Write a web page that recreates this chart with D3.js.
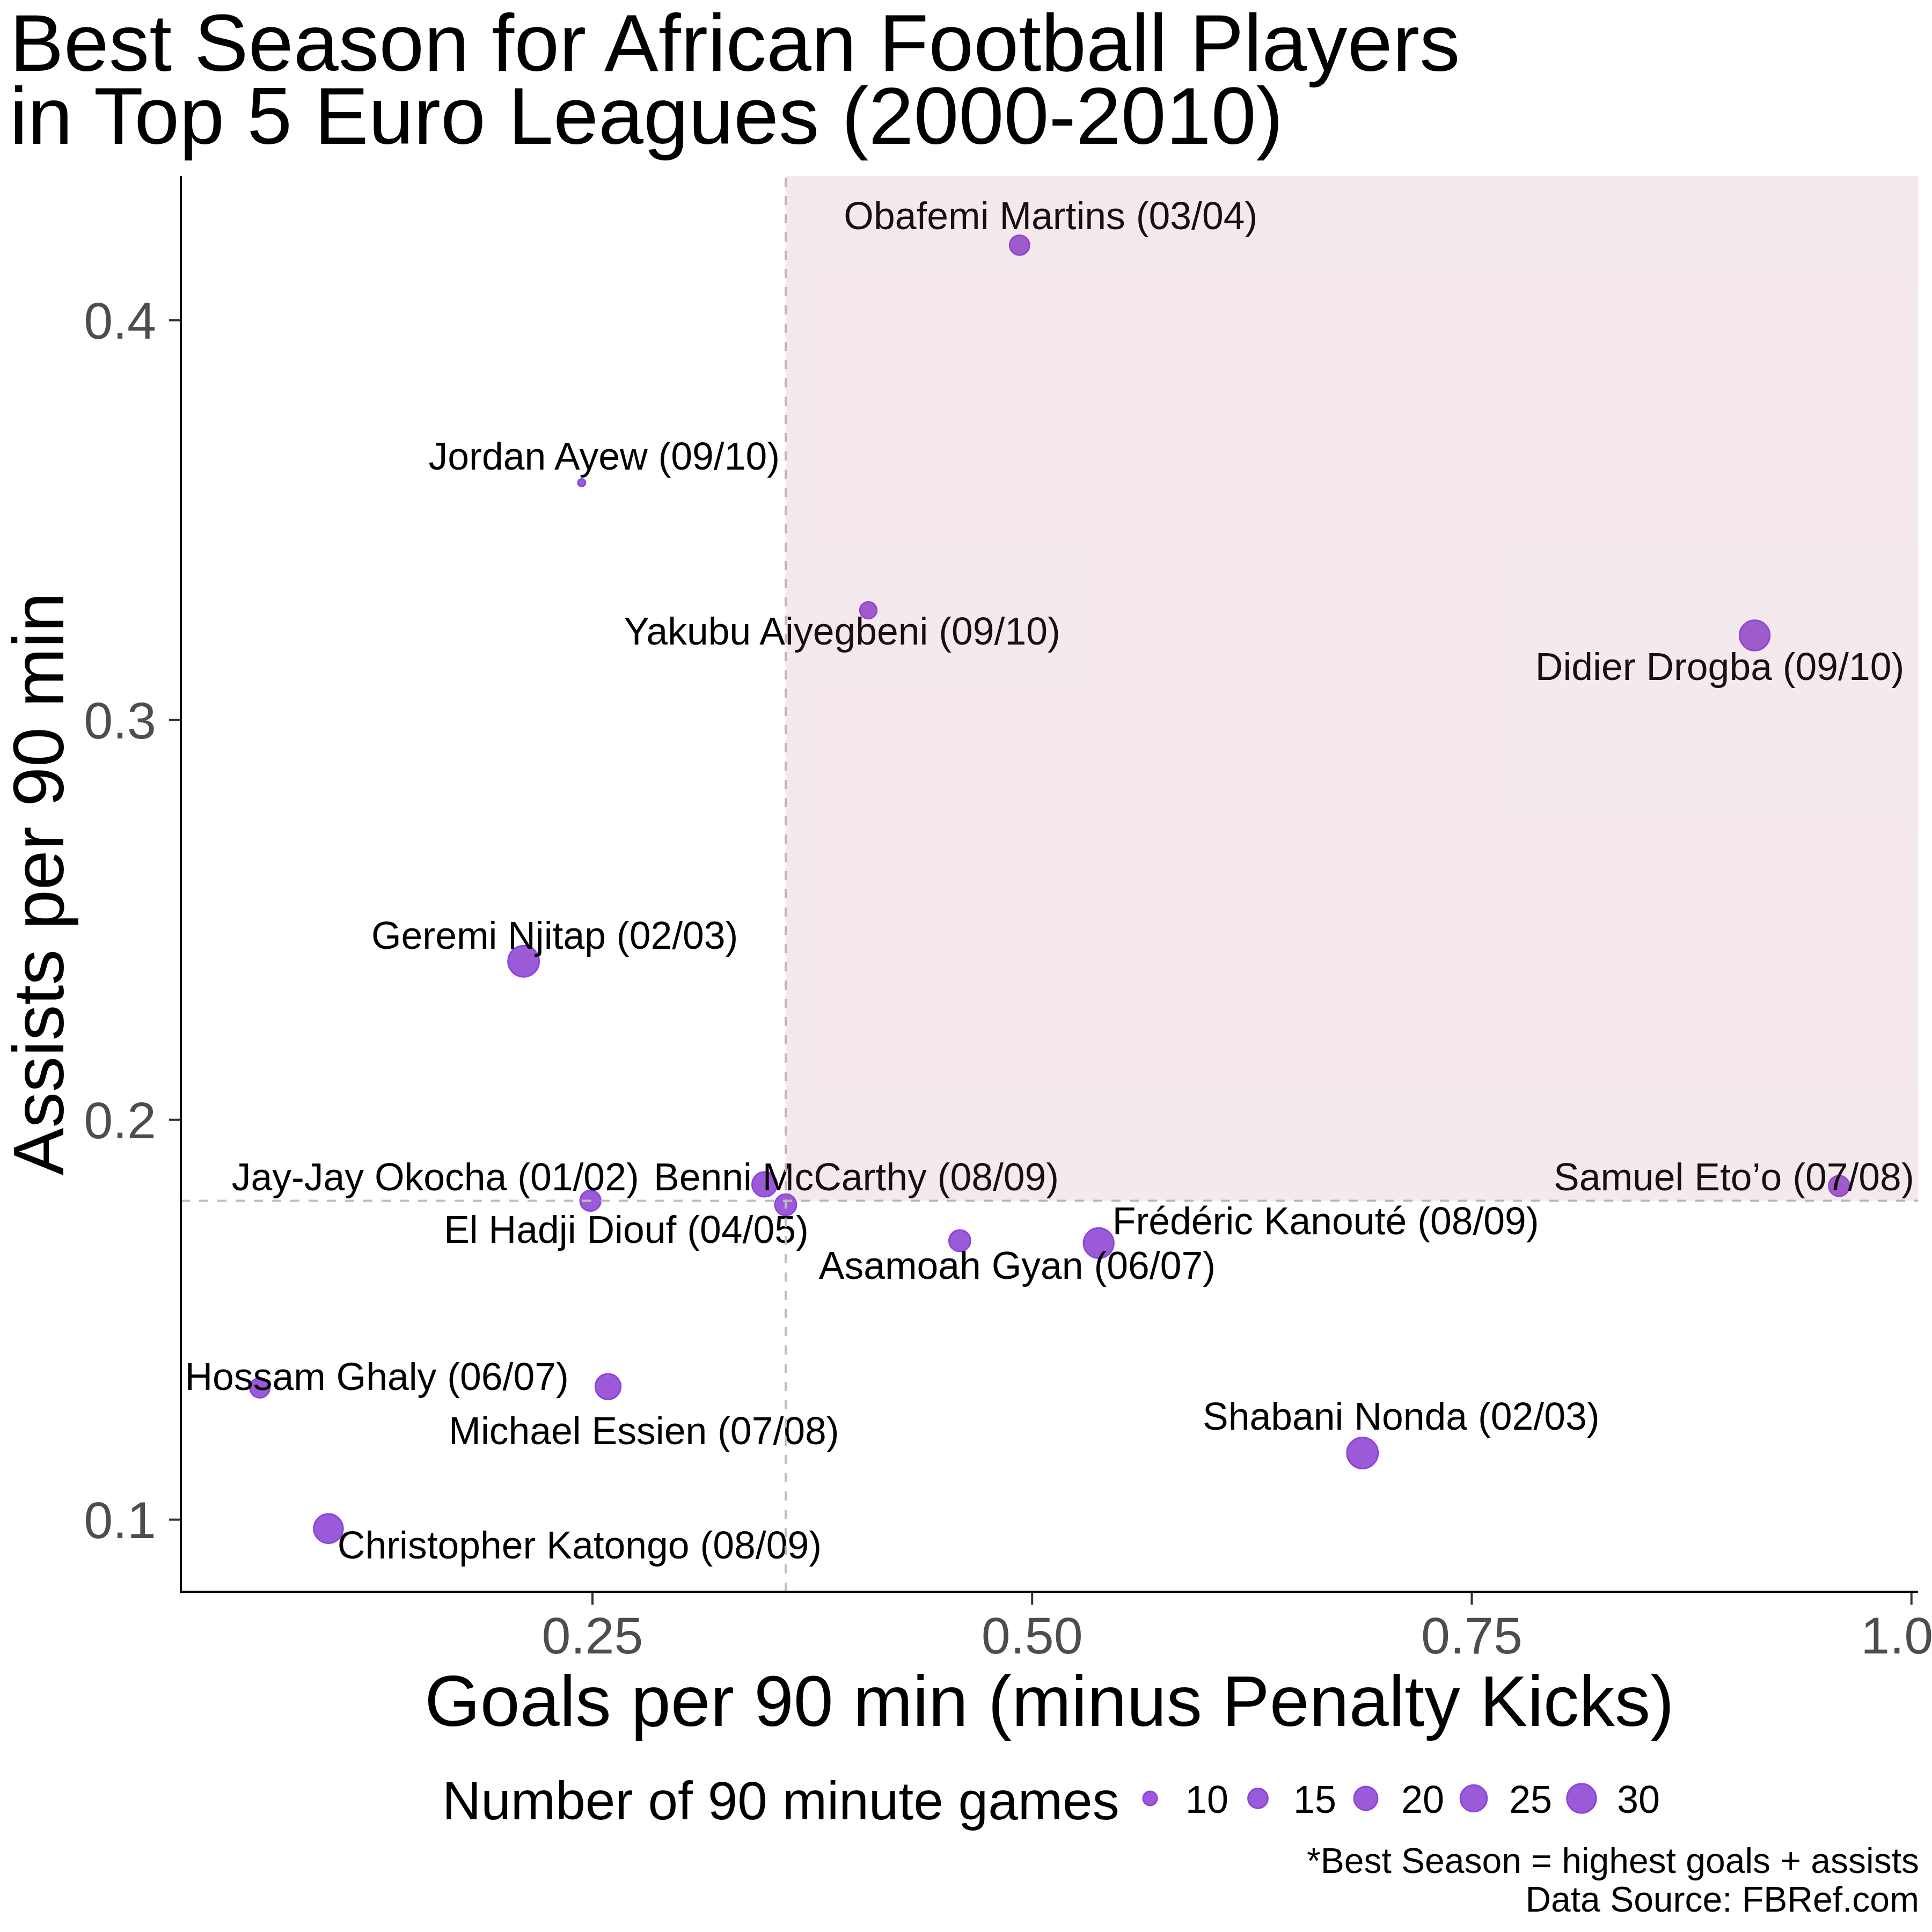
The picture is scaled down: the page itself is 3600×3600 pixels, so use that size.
<!DOCTYPE html>
<html>
<head>
<meta charset="utf-8">
<script src="https://cdn.jsdelivr.net/npm/d3@7"></script>
<style>
  body { margin: 0; background: #fff; }
  text { font-family: "Liberation Sans", Arial, Helvetica, sans-serif; }
</style>
</head>
<body>
<div id="chart"></div>
<script>
// player seasons
var players = ["Obafemi Martins", "Jordan Ayew", "Yakubu Aiyegbeni", "Didier Drogba",
  "Geremi Njitap", "Jay-Jay Okocha", "Benni McCarthy", "El Hadji Diouf", "Samuel Eto\u2019o",
  "Fr\u00e9d\u00e9ric Kanout\u00e9", "Asamoah Gyan", "Hossam Ghaly", "Michael Essien",
  "Shabani Nonda", "Christopher Katongo"];
var seasons = ["03/04", "09/10", "09/10", "09/10", "02/03", "01/02", "08/09", "04/05", "07/08",
  "08/09", "06/07", "06/07", "07/08", "02/03", "08/09"];
var goals90 = [0.493, 0.244, 0.407, 0.911, 0.211, 0.249, 0.348, 0.360, 0.959,
  0.538, 0.459, 0.061, 0.259, 0.688, 0.100];
var assists90 = [0.4187, 0.3593, 0.3274, 0.3211, 0.2396, 0.1797, 0.1838, 0.1787, 0.1834,
  0.1691, 0.1697, 0.1329, 0.1332, 0.1166, 0.0977];
var games = [15, 8, 12, 32, 34, 16, 22, 17, 16, 32, 17, 15, 23, 34, 30];

var xTicks = [0.25, 0.50, 0.75, 1.00];
var yTicks = [0.1, 0.2, 0.3, 0.4];
var yDomain = [0.0819, 0.436];
var legendGames = [10, 15, 20, 25, 30];

// where each label sits relative to its point (repel result), px
var labelNudge = [[58, -55], [42, -49], [-49, 39], [-65, 58], [58, -48], [-289, -44],
  [171, -14], [-297, 46], [-196, -17], [423, -41], [107, 46], [218, -21], [67, 82],
  [72, -69], [468, 31]];

var width = 3600, height = 3600;
var plotLeft = 337, plotRight = 3574, plotTop = 328, plotBottom = 2966;

var svg = d3.select("#chart").append("svg")
  .attr("width", width)
  .attr("height", height);

svg.append("rect").attr("width", width).attr("height", height).attr("fill", "#fff");

// ggplot style 5% expansion
function expand(ext) {
  var pad = (ext[1] - ext[0]) * 0.05;
  return [ext[0] - pad, ext[1] + pad];
}

var x = d3.scaleLinear().domain(expand(d3.extent(goals90))).range([plotLeft, plotRight]);
var y = d3.scaleLinear().domain(yDomain).range([plotBottom, plotTop]);

var gMin = d3.min(games), gMax = d3.max(games);
var rs = d3.scaleSqrt().domain([0, gMax - gMin]).range([0, 22]);
function radius(g) { return 7 + rs(Math.max(0, g - gMin)); }

var data = players.map(function(p, i) {
  return { name: p + " (" + seasons[i] + ")", gx: goals90[i], ay: assists90[i], g: games[i], nudge: labelNudge[i] };
});

var medX = d3.median(goals90);
var medY = d3.median(assists90);

// points
svg.append("g").selectAll("circle")
  .data(data)
  .enter()
  .append("circle")
  .attr("cx", d => x(d.gx))
  .attr("cy", d => y(d.ay))
  .attr("r", d => radius(d.g))
  .attr("fill", "#9b5bd8")
  .attr("stroke", "#8c44de")
  .attr("stroke-width", 3);

// labels
svg.append("g").selectAll("text")
  .data(data)
  .enter()
  .append("text")
  .attr("x", d => x(d.gx) + d.nudge[0])
  .attr("y", d => y(d.ay) + d.nudge[1])
  .attr("dy", "0.35em")
  .attr("text-anchor", "middle")
  .attr("font-size", 71.5)
  .attr("fill", "#000")
  .text(d => d.name);

// median lines
svg.append("line")
  .attr("x1", x(medX)).attr("x2", x(medX))
  .attr("y1", plotBottom).attr("y2", plotTop)
  .attr("stroke", "#bebebe").attr("stroke-width", 4)
  .attr("stroke-dasharray", "17 17");

svg.append("line")
  .attr("x1", plotLeft).attr("x2", plotRight)
  .attr("y1", y(medY)).attr("y2", y(medY))
  .attr("stroke", "#bebebe").attr("stroke-width", 4)
  .attr("stroke-dasharray", "17 17");

// highlighted quadrant
svg.append("rect")
  .attr("x", x(medX))
  .attr("y", plotTop)
  .attr("width", plotRight - x(medX))
  .attr("height", y(medY) - plotTop)
  .attr("fill", "rgb(180,100,120)")
  .attr("fill-opacity", 0.14);

// axes
var xAxis = svg.append("g")
  .attr("transform", `translate(0, ${plotBottom})`)
  .call(d3.axisBottom(x).tickValues(xTicks).tickFormat(d3.format(".2f")).tickSize(24).tickPadding(22));
var yAxis = svg.append("g")
  .attr("transform", `translate(${plotLeft}, 0)`)
  .call(d3.axisLeft(y).tickValues(yTicks).tickFormat(d3.format(".1f")).tickSize(22).tickPadding(24));

[xAxis, yAxis].forEach(function(a) {
  a.select(".domain").remove();
  a.selectAll("line").attr("stroke", "#333").attr("stroke-width", 4);
  a.selectAll("text").attr("font-size", 97).attr("fill", "#4d4d4d")
    .attr("font-family", '"Liberation Sans", Arial, sans-serif');
});
xAxis.selectAll("text").attr("dy", "0.71em");
yAxis.selectAll("text").attr("dy", "0.35em");

svg.append("line").attr("x1", plotLeft).attr("x2", plotLeft).attr("y1", plotTop).attr("y2", plotBottom + 2)
  .attr("stroke", "#000").attr("stroke-width", 4);
svg.append("line").attr("x1", plotLeft - 2).attr("x2", plotRight).attr("y1", plotBottom).attr("y2", plotBottom)
  .attr("stroke", "#000").attr("stroke-width", 4);

// axis titles
svg.append("text")
  .attr("x", (plotLeft + plotRight) / 2)
  .attr("y", 3216)
  .attr("text-anchor", "middle")
  .attr("font-size", 133)
  .text("Goals per 90 min (minus Penalty Kicks)");

svg.append("text")
  .attr("transform", `translate(118, ${(plotTop + plotBottom) / 2}) rotate(-90)`)
  .attr("text-anchor", "middle")
  .attr("font-size", 133)
  .text("Assists per 90 min");

// title
var title = svg.append("text").attr("font-size", 151).attr("fill", "#000");
title.append("tspan").attr("x", 18).attr("y", 132).text("Best Season for African Football Players");
title.append("tspan").attr("x", 18).attr("y", 268).text("in Top 5 Euro Leagues (2000-2010)");

// size legend
svg.append("text")
  .attr("x", 824)
  .attr("y", 3390)
  .attr("font-size", 100)
  .text("Number of 90 minute games");

var leg = svg.append("g").selectAll("g")
  .data(legendGames)
  .enter()
  .append("g")
  .attr("transform", (d, i) => `translate(${2143 + i * 201}, 3351)`);

leg.append("circle")
  .attr("r", d => radius(d))
  .attr("fill", "#9b5bd8")
  .attr("stroke", "#8c44de")
  .attr("stroke-width", 3);

leg.append("text")
  .attr("x", 66)
  .attr("y", 27)
  .attr("font-size", 72)
  .text(d => d);

// caption
var cap = svg.append("text").attr("font-size", 66).attr("text-anchor", "end");
cap.append("tspan").attr("x", 3576).attr("y", 3490).text("*Best Season = highest goals + assists");
cap.append("tspan").attr("x", 3576).attr("y", 3562).text("Data Source: FBRef.com");
</script>
</body>
</html>
